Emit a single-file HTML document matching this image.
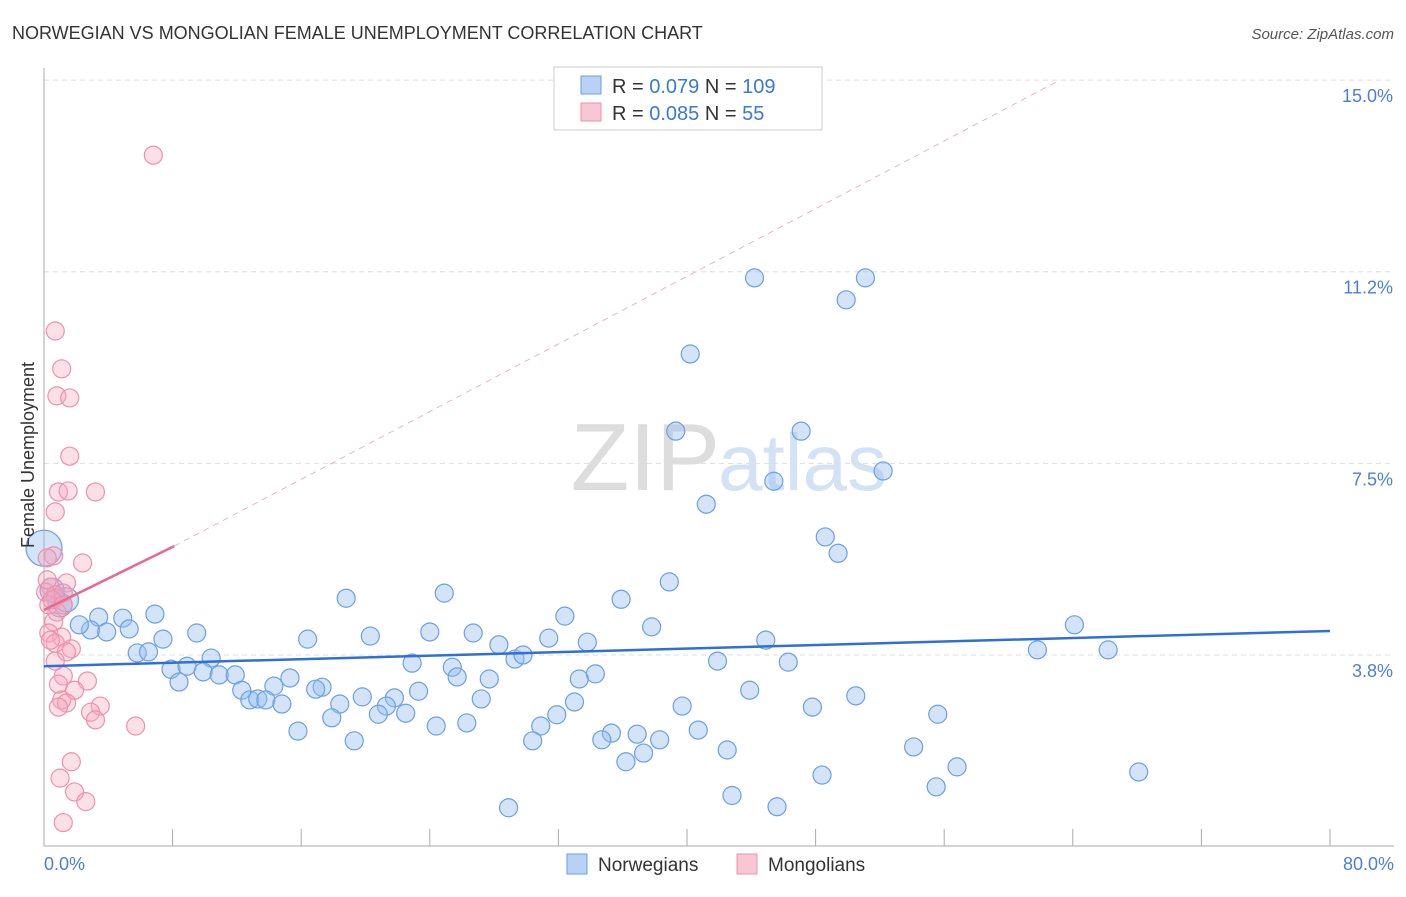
<!DOCTYPE html>
<html><head><meta charset="utf-8"><style>
body{margin:0;background:#fff;font-family:"Liberation Sans",sans-serif}
svg text{font-family:"Liberation Sans",sans-serif}
</style></head><body>
<svg width="1406" height="892" viewBox="0 0 1406 892" id="chart">
<text x="12" y="39" font-size="18" fill="#333">NORWEGIAN VS MONGOLIAN FEMALE UNEMPLOYMENT CORRELATION CHART</text>
<text x="1394" y="39" font-size="15" fill="#555" text-anchor="end" font-style="italic">Source: ZipAtlas.com</text>
<text x="720" y="490" font-size="96" fill="#ddd" text-anchor="end" font-family="Liberation Serif">ZIP</text>
<text x="718" y="490" font-size="80" fill="#d3e3f5">atlas</text>
<g id="grid"></g><g id="axes"></g><g id="pts"></g><g id="trend"></g>
<text transform="translate(34,455) rotate(-90)" font-size="18" fill="#333" text-anchor="middle">Female Unemployment</text>
<text x="44" y="870" font-size="18" fill="#4a7fd4">0.0%</text>
<text x="1394" y="870" font-size="18" fill="#4a7fd4" text-anchor="end">80.0%</text>
<g>
<rect x="554" y="67" width="268" height="63" fill="#fff" stroke="#ccc"/>
<rect x="581" y="76" width="20" height="18" fill="#b8d2f5" stroke="#6b9fe0"/>
<rect x="581" y="103" width="20" height="18" fill="#f9c6d5" stroke="#f08fab"/>
<text x="612" y="93" font-size="20" fill="#333">R = <tspan fill="#3a78d8">0.079</tspan>    N = <tspan fill="#3a78d8">109</tspan></text>
<text x="612" y="120" font-size="20" fill="#333">R = <tspan fill="#3a78d8">0.085</tspan>    N =   <tspan fill="#3a78d8"> 55</tspan></text>
</g>
<g>
<rect x="567" y="854" width="20" height="20" fill="#b8d2f5" stroke="#6b9fe0"/>
<text x="598" y="871" font-size="19" fill="#333">Norwegians</text>
<rect x="737" y="854" width="20" height="20" fill="#f9c6d5" stroke="#f08fab"/>
<text x="768" y="871" font-size="19" fill="#333">Mongolians</text>
</g>
</svg>
<script>
const yTicks=[3.8,7.5,11.2,15.0];
const yTickVals=[3.75,7.5,11.25,15.0];
const xTicks=[0,8,16,24,32,40,48,56,64,72,80];
const blueX=[44.2,51.1,49.9,40.2,39.3,47.1,52.2,45.4,41.2,48.6,49.4,38.9,24.9,18.8,35.9,6.9,3.4,4.9,32.4,2.9,3.9,5.3,9.5,24.0,26.7,20.3,16.4,7.4,37.8,31.4,33.8,44.9,28.3,64.1,61.8,66.2,5.8,6.5,10.4,41.9,46.3,22.9,29.3,29.8,7.9,8.9,9.9,10.9,11.9,25.4,25.7,8.4,34.3,33.3,15.3,14.3,17.3,16.9,12.3,12.8,13.3,13.8,14.8,19.8,21.8,23.3,27.7,43.9,50.5,33.0,27.2,18.4,21.3,17.9,20.8,22.5,31.9,30.9,39.7,47.8,55.6,15.8,24.4,26.3,35.3,36.9,40.7,19.3,30.4,34.7,38.3,37.3,42.5,54.1,36.2,56.8,48.4,68.1,55.5,42.8,28.9,45.6,1.0,0.7,1.4,2.2,0.5,0.0];
const blueY=[11.13,11.13,10.70,9.64,8.13,8.13,7.35,7.15,6.70,6.06,5.74,5.18,4.96,4.86,4.84,4.55,4.49,4.47,4.51,4.24,4.20,4.26,4.18,4.20,4.18,4.12,4.06,4.06,4.30,4.08,4.00,4.04,3.95,4.34,3.85,3.85,3.79,3.81,3.69,3.63,3.61,3.59,3.67,3.75,3.47,3.53,3.42,3.36,3.36,3.51,3.32,3.22,3.38,3.28,3.30,3.14,3.12,3.08,3.06,2.87,2.89,2.87,2.79,2.93,2.91,3.04,3.28,3.06,2.95,2.83,2.89,2.79,2.75,2.52,2.59,2.61,2.58,2.36,2.75,2.73,2.59,2.26,2.36,2.42,2.22,2.20,2.28,2.07,2.07,2.09,2.09,1.83,1.89,1.95,1.66,1.56,1.40,1.46,1.17,1.00,0.76,0.78,4.73,4.93,4.83,4.34,5.02,5.84];
const blueSize=[];
const pinkX=[6.8,0.7,1.1,0.8,1.6,1.6,0.9,1.5,3.2,0.7,2.4,0.6,0.2,1.4,0.4,0.1,0.7,1.2,0.3,0.8,0.6,0.3,1.1,0.7,1.7,1.4,0.7,1.2,2.7,0.9,1.9,1.1,1.4,0.9,3.5,2.9,3.2,5.7,1.7,1.0,1.9,2.6,1.2,0.4,0.5,0.2,1.2];
const pinkY=[13.53,10.09,9.35,8.82,8.78,7.64,6.94,6.96,6.94,6.55,5.55,5.69,5.65,5.16,5.08,4.98,4.86,4.96,4.73,4.59,4.40,4.18,4.10,3.98,3.87,3.81,3.63,3.34,3.24,3.18,3.06,2.87,2.81,2.73,2.75,2.63,2.48,2.36,1.66,1.34,1.07,0.88,0.47,4.04,4.83,5.22,4.73];
const blueTrendX=[0,80], blueTrendY=[3.53,4.22];
const pinkTrendX=[0,8.1], pinkTrendY=[4.63,5.88];
const pinkDashX=[8.1,63.2], pinkDashY=[5.88,15.0];

const NS='http://www.w3.org/2000/svg';
const X=v=>44+v*(1286/80);
const Y=v=>846.6-v*51.1;
function mk(tag,attrs,parent){const e=document.createElementNS(NS,tag);for(const k in attrs)e.setAttribute(k,attrs[k]);document.getElementById(parent).appendChild(e);return e;}
yTickVals.forEach((v,i)=>{
  const g=mk('line',{x1:44,x2:1394,y1:Y(v),y2:Y(v),stroke:'#ddd','stroke-dasharray':'5,4'},'grid');
  
  
  const t=mk('text',{x:1393,y:Y(v)+22,'font-size':18,fill:'#4a7fd4','text-anchor':'end'},'grid');
  t.textContent=yTicks[i].toFixed(1)+'%';
  
  
});
const ax=mk('line',{x1:44,x2:44,y1:68,y2:846,stroke:'#aaa'},'axes');


const bx=mk('line',{x1:44,x2:1394,y1:846,y2:846,stroke:'#aaa'},'axes');


xTicks.forEach(v=>{
  const t=mk('line',{x1:X(v),x2:X(v),y1:829,y2:846,stroke:'#aaa'},'axes');
  
  
});
blueX.forEach((v,i)=>{
  const r=(i===blueX.length-1)?18:(i>=blueX.length-6&&i<blueX.length-1&&i%2===0?12:9);
  const c=mk('circle',{cx:X(v),cy:Y(blueY[i]),r:r,fill:'rgba(150,190,240,0.42)',stroke:'#6b9fe0','stroke-width':1.2},'pts');
  
  
});
pinkX.forEach((v,i)=>{
  const c=mk('circle',{cx:X(v),cy:Y(pinkY[i]),r:9,fill:'rgba(245,165,190,0.35)',stroke:'#f08fab','stroke-width':1.2},'pts');
  
  
});
const bt=mk('line',{x1:X(blueTrendX[0]),y1:Y(blueTrendY[0]),x2:X(blueTrendX[1]),y2:Y(blueTrendY[1]),stroke:'#2f6fd6','stroke-width':2.5},'trend');


const pd=mk('line',{x1:X(pinkDashX[0]),y1:Y(pinkDashY[0]),x2:X(pinkDashX[1]),y2:Y(pinkDashY[1]),stroke:'#eab3c3','stroke-width':1,'stroke-dasharray':'6,5'},'trend');


const pt=mk('line',{x1:X(pinkTrendX[0]),y1:Y(pinkTrendY[0]),x2:X(pinkTrendX[1]),y2:Y(pinkTrendY[1]),stroke:'#e8688f','stroke-width':2.5},'trend');


</script>
</body></html>
